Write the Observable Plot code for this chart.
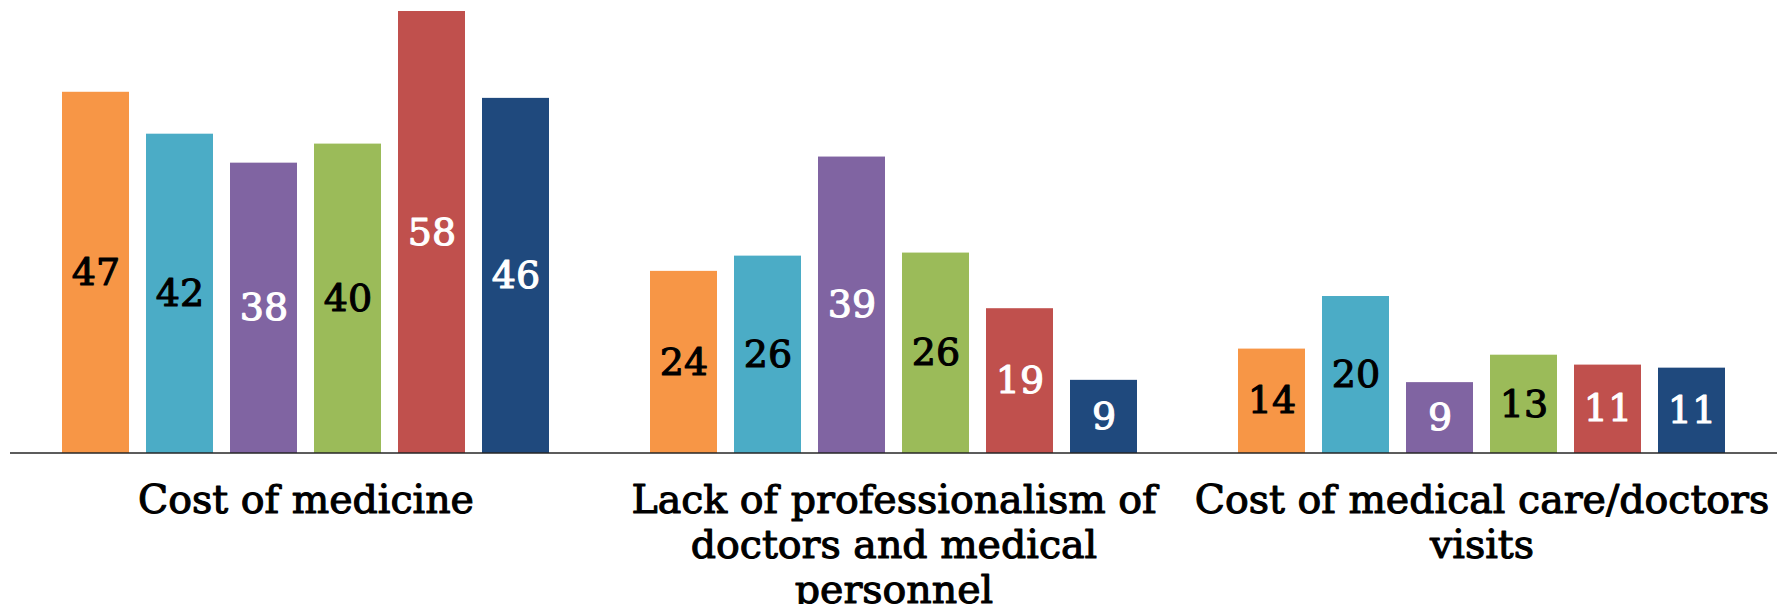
<!DOCTYPE html>
<html>
<head>
<meta charset="utf-8">
<script src="https://cdn.jsdelivr.net/npm/d3@7"></script>
<script src="https://cdn.jsdelivr.net/npm/@observablehq/plot@0.6"></script>
<style>
  html, body { margin: 0; padding: 0; background: #fff; }
  #chart svg { display: block; }
</style>
</head>
<body>
<div id="chart"></div>
<script>
// Categories (facets) and their display labels
const categories = [
  "Cost of medicine",
  "Lack of professionalism of doctors and medical personnel",
  "Cost of medical care/doctors visits"
];
const categoryLabels = [
  "Cost of medicine",
  "Lack of professionalism of\ndoctors and medical\npersonnel",
  "Cost of medical care/doctors\nvisits"
];

// Series (one bar per series within each category)
const seriesNames = ["Series 1", "Series 2", "Series 3", "Series 4", "Series 5", "Series 6"];
// bar heights
const series1 = [47.4, 23.9, 13.7];
const series2 = [41.9, 25.9, 20.6];
const series3 = [38.1, 38.9, 9.3];
const series4 = [40.6, 26.3, 12.9];
const series5 = [58.0, 19.0, 11.6];
const series6 = [46.6, 9.6, 11.2];
const seriesValues = [series1, series2, series3, series4, series5, series6];
// data labels as printed on the bars
const series1Labels = ["47", "24", "14"];
const series2Labels = ["42", "26", "20"];
const series3Labels = ["38", "39", "9"];
const series4Labels = ["40", "26", "13"];
const series5Labels = ["58", "19", "11"];
const series6Labels = ["46", "9", "11"];
const seriesLabels = [series1Labels, series2Labels, series3Labels, series4Labels, series5Labels, series6Labels];

const seriesColors = ["#F79646", "#4BACC6", "#8064A2", "#9BBB59", "#C0504D", "#1F497D"];
const labelColors = ["#000000", "#000000", "#ffffff", "#000000", "#ffffff", "#ffffff"];

// Build table
const data = [];
categories.forEach((c, ci) => {
  seriesNames.forEach((s, si) => {
    data.push({
      category: c, series: s,
      value: seriesValues[si][ci],
      label: seriesLabels[si][ci],
      labelColor: labelColors[si]
    });
  });
});
const catTable = categories.map((c, i) => ({category: c, label: categoryLabels[i]}));

const font = "DejaVu Serif";

const plot = Plot.plot({
  width: 1791,
  height: 604,
  marginLeft: 53,
  marginRight: 57,
  marginTop: 11,
  marginBottom: 151,
  style: {fontFamily: font, background: "#fff"},
  fx: {domain: categories, paddingInner: 0.142, paddingOuter: 0, axis: null, label: null},
  x: {domain: seriesNames, paddingInner: 0.2, paddingOuter: 0.1, axis: null, label: null},
  y: {domain: [0, 58], axis: null, label: null},
  color: {domain: seriesNames, range: seriesColors},
  marks: [
    Plot.barY(data, {fx: "category", x: "series", y: "value", fill: "series"}),
    Plot.text(data.filter(d => d.labelColor === "#000000"), {
      fx: "category", x: "series", y: d => d.value / 2, text: "label",
      fill: "#000000", stroke: "#000000", strokeWidth: 1.1, fontSize: 38, fontFamily: font
    }),
    Plot.text(data.filter(d => d.labelColor === "#ffffff"), {
      fx: "category", x: "series", y: d => d.value / 2, text: "label",
      fill: "#ffffff", stroke: "#ffffff", strokeWidth: 1.1, fontSize: 38, fontFamily: font
    }),
    Plot.text(catTable, {
      fx: "category", text: "label", frameAnchor: "bottom", lineAnchor: "top",
      dy: 27.5, fontSize: 39.5, lineHeight: 1.14, fill: "#000",
      stroke: "#000", strokeWidth: 1.1, fontFamily: font
    })
  ]
});

// Baseline axis line spanning all groups (slightly past the outer groups)
const y0 = plot.scale("y").apply(0);
const overhang = 43;
d3.select(plot).append("line")
  .attr("x1", 53 - overhang)
  .attr("x2", 1791 - 57 + overhang)
  .attr("y1", y0)
  .attr("y2", y0)
  .attr("stroke", "#262626")
  .attr("stroke-width", 1.6);

document.getElementById("chart").appendChild(plot);
</script>
</body>
</html>
